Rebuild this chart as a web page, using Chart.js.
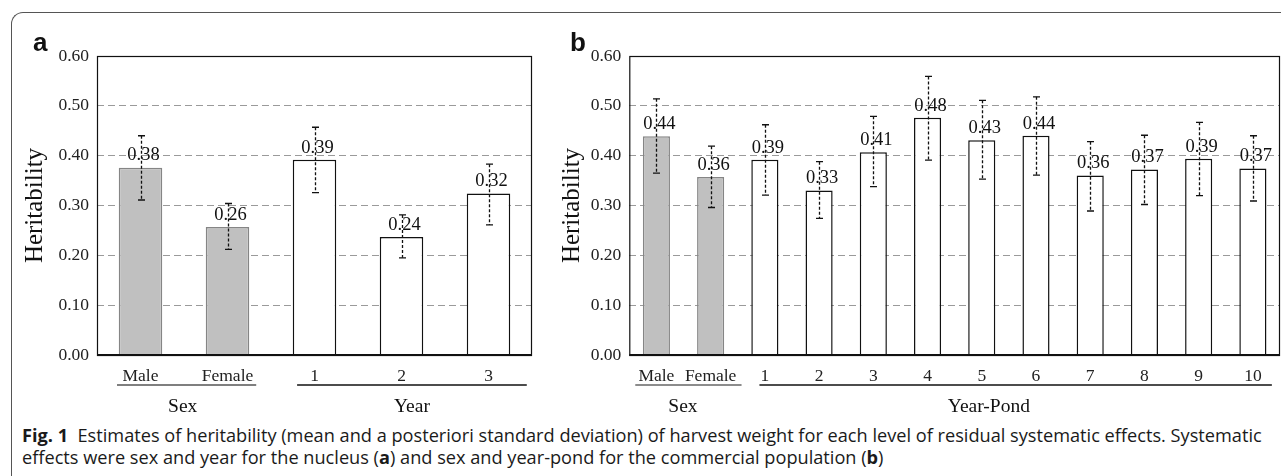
<!DOCTYPE html>
<html>
<head>
<meta charset="utf-8">
<script src="https://cdn.jsdelivr.net/npm/chart.js@4"></script>
<style>
body{margin:0;background:#fff;width:1281px;height:476px;overflow:hidden;position:relative}
#frame{position:absolute;left:11px;top:12px;width:1400px;height:600px;border-left:1.5px solid #555;border-top:1.5px solid #555;border-top-left-radius:12px}
.tag{position:absolute;font:bold 26px "Liberation Sans",sans-serif;color:#111;line-height:26px}
#cap{position:absolute;left:22px;top:424px;font-family:"Open Sans",sans-serif;font-size:16px;line-height:22px;white-space:nowrap;color:#1a1a1a}
#wa{position:absolute;left:0;top:0}
#wb{position:absolute;left:540px;top:0}
</style>
</head>
<body>
<div id="frame"></div>
<canvas id="wa" width="545" height="420"></canvas>
<canvas id="wb" width="741" height="420"></canvas>
<div class="tag" style="left:33px;top:29px">a</div>
<div class="tag" style="left:570px;top:29px">b</div>
<div id="cap"><span id="l1"><b>Fig. 1</b>&nbsp; Estimates of heritability (mean and a posteriori standard deviation) of harvest weight for each level of residual systematic effects. Systematic</span><br>effects were sex and year for the nucleus (<b>a</b>) and sex and year-pond for the commercial population (<b>b</b>)</div>
<script>
// panel a: nucleus
var catsA = ['Male', 'Female', '1', '2', '3'];
var herA = [0.376, 0.257, 0.392, 0.237, 0.324];
var loA = [0.311, 0.212, 0.326, 0.195, 0.261];
var hiA = [0.440, 0.304, 0.457, 0.281, 0.383];
var groupsA = [['Sex', 0, 1], ['Year', 2, 4]];

// panel b: commercial population
var catsB = ['Male', 'Female', '1', '2', '3', '4', '5', '6', '7', '8', '9', '10'];
var herB = [0.439, 0.357, 0.392, 0.330, 0.407, 0.476, 0.431, 0.440, 0.360, 0.372, 0.394, 0.374];
var loB = [0.365, 0.296, 0.321, 0.274, 0.338, 0.391, 0.353, 0.361, 0.289, 0.302, 0.320, 0.309];
var hiB = [0.514, 0.419, 0.462, 0.388, 0.479, 0.559, 0.511, 0.518, 0.428, 0.441, 0.467, 0.440];
var groupsB = [['Sex', 0, 1], ['Year-Pond', 2, 11]];

var yTicks = [0, 0.1, 0.2, 0.3, 0.4, 0.5, 0.6];

var serif = '"Liberation Serif", "Times New Roman", serif';

var extras = {
	id: 'extras',
	afterDatasetsDraw: function(chart, args, opts) {
		var ctx = chart.ctx, ys = chart.scales.y, a = chart.chartArea;
		var meta = chart.getDatasetMeta(0);
		var vals = chart.data.datasets[0].data;
		ctx.save();
		// value labels
		ctx.font = '18.5px ' + serif;
		ctx.fillStyle = '#111';
		ctx.textAlign = 'center';
		ctx.textBaseline = 'middle';
		meta.data.forEach(function(bar, i) {
			ctx.fillText(vals[i].toFixed(2), bar.x + 3, bar.y - 12);
		});
		// error bars
		ctx.strokeStyle = '#111';
		ctx.lineWidth = 1.3;
		meta.data.forEach(function(bar, i) {
			var x = Math.round(bar.x) + 0.5;
			var t = ys.getPixelForValue(opts.hi[i]);
			var b = ys.getPixelForValue(opts.lo[i]);
			ctx.setLineDash([3, 2]);
			ctx.beginPath(); ctx.moveTo(x, t); ctx.lineTo(x, b); ctx.stroke();
			ctx.setLineDash([]);
			ctx.beginPath();
			ctx.moveTo(x - 3.5, t); ctx.lineTo(x + 3.5, t);
			ctx.moveTo(x - 3.5, b); ctx.lineTo(x + 3.5, b);
			ctx.stroke();
		});
		// frame
		ctx.lineWidth = 1.2;
		ctx.strokeStyle = '#111';
		ctx.strokeRect(a.left + 0.5, a.top + 0.5, a.right - a.left - 1, a.bottom - a.top);
		ctx.lineWidth = 2.2;
		ctx.beginPath(); ctx.moveTo(a.left, a.bottom); ctx.lineTo(a.right, a.bottom); ctx.stroke();
		ctx.restore();
	},
	afterDraw: function(chart, args, opts) {
		var ctx = chart.ctx, xs = chart.scales.x;
		var cw = xs.width / chart.data.labels.length;
		ctx.save();
		opts.groups.forEach(function(g, k) {
			var st = opts.gstyle[k];
			var x0 = xs.left + g[1] * cw + st.l * cw;
			var x1 = xs.left + (g[2] + 1) * cw - st.r * cw;
			ctx.strokeStyle = st.c;
			ctx.lineWidth = 1.6;
			ctx.beginPath(); ctx.moveTo(x0, 385); ctx.lineTo(x1, 385); ctx.stroke();
			ctx.font = '19.5px ' + serif;
			ctx.fillStyle = '#111';
			ctx.textAlign = 'center';
			ctx.textBaseline = 'middle';
			ctx.fillText(g[0], xs.left + st.at * cw, 407);
		});
		ctx.restore();
	}
};

function makeChart(id, cats, her, lo, hi, groups, gstyle, padL, yW, padR) {
	var nGray = groups[0][2] + 1;
	return new Chart(document.getElementById(id), {
		type: 'bar',
		data: {
			labels: cats,
			datasets: [{
				data: her,
				backgroundColor: function(c) { return c.dataIndex < nGray ? '#c0c0c0' : '#ffffff'; },
				borderColor: function(c) { return c.dataIndex < nGray ? '#858585' : '#111111'; },
				borderWidth: 1.5,
				barPercentage: 0.5,
				categoryPercentage: 1.0
			}]
		},
		options: {
			responsive: false,
			animation: false,
			layout: { padding: { left: padL, top: 56, right: padR, bottom: 35 } },
			plugins: {
				legend: { display: false },
				tooltip: { enabled: false },
				extras: { lo: lo, hi: hi, groups: groups, gstyle: gstyle }
			},
			scales: {
				x: {
					afterFit: function(s) { s.height = 30; },
					grid: { display: false, drawTicks: false },
					border: { display: false },
					ticks: { color: '#222', padding: 11, font: { family: serif, size: 17.5 }, maxRotation: 0, autoSkip: false }
				},
				y: {
					min: 0,
					max: 0.6,
					afterFit: function(s) { s.width = yW; },
					afterBuildTicks: function(s) { s.ticks = yTicks.map(function(v) { return { value: v }; }); },
					grid: {
						drawTicks: false,
						color: function(c) { return (c.tick && c.tick.value > 0.001 && c.tick.value < 0.599) ? '#9a9a9a' : 'rgba(0,0,0,0)'; },
						lineWidth: 1
					},
					border: { display: false, dash: [7, 4] },
					ticks: { color: '#222', padding: 8, font: { family: serif, size: 17.5 }, callback: function(v) { return v.toFixed(2); } },
					title: { display: true, text: 'Heritability', color: '#111', padding: 0, font: { family: serif, size: 25, lineHeight: 1 } }
				}
			}
		},
		plugins: [extras]
	});
}

makeChart('wa', catsA, herA, loA, hiA, groupsA,
	[{ l: 0.23, r: 0.17, at: 0.985, c: '#555' }, { l: 0.30, r: 0.06, at: 3.62, c: '#111' }],
	22.5, 74.5, 13);
makeChart('wb', catsB, herB, loB, hiB, groupsB,
	[{ l: 0.11, r: -0.07, at: 0.99, c: '#666' }, { l: 0.40, r: 0.15, at: 6.63, c: '#111' }],
	20, 69.3, 1);

// fit caption first line to the figure width
var l1 = document.getElementById('l1');
var cap = document.getElementById('cap');
var w = l1.getBoundingClientRect().width;
cap.style.fontSize = (16 * 1240 / w).toFixed(2) + 'px';
</script>
</body>
</html>
